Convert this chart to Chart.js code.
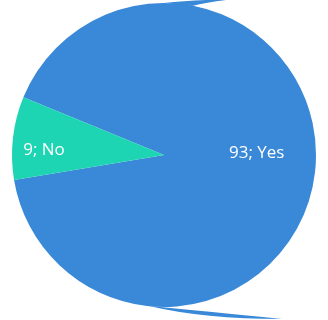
<!DOCTYPE html>
<html>
<head>
<meta charset="utf-8">
<script src="https://cdn.jsdelivr.net/npm/chart.js@4/dist/chart.umd.min.js"></script>
<style>
  html, body { margin: 0; padding: 0; background: #fff; }
  #wrap { width: 328px; height: 320px; position: relative; }
</style>
</head>
<body>
<div id="wrap"><canvas id="pie"></canvas></div>
<script>
// answers and counts
const labels = ['Yes', 'No'];
const counts = [93, 9];
const colors = ['#3a89d8', '#1dd5b2'];

// thin blue streaks trailing off the top and bottom of the pie
const streaks = {
    id: 'streaks',
    beforeDatasetsDraw(chart) {
        const arc = chart.getDatasetMeta(0).data[0];
        const { x, y, outerRadius: R } = arc.getProps(['x', 'y', 'outerRadius']);
        const ctx = chart.ctx;
        ctx.save();
        ctx.fillStyle = colors[0];
        const top = y - R;
        ctx.beginPath();
        ctx.moveTo(x, top);
        ctx.quadraticCurveTo(x + 30, top - 3, x + 70, top - 4);
        ctx.quadraticCurveTo(x + 45, top - 1, x + 28, top + 3);
        ctx.closePath();
        ctx.fill();
        const bot = y + R;
        ctx.beginPath();
        ctx.moveTo(x - 15, bot - 1);
        ctx.quadraticCurveTo(x + 40, bot + 4, x + 118, bot + 12);
        ctx.quadraticCurveTo(x + 40, bot + 12, x - 15, bot - 1);
        ctx.closePath();
        ctx.fill();
        ctx.restore();
    }
};

// "count; label" text inside each slice
const sliceLabels = {
    id: 'sliceLabels',
    afterDatasetsDraw(chart) {
        const ctx = chart.ctx;
        const meta = chart.getDatasetMeta(0);
        const ratios = [0.61, 0.79];
        const turn = [-0.13, -0.07];
        ctx.save();
        ctx.fillStyle = '#ffffff';
        ctx.font = '17px "Open Sans", sans-serif';
        ctx.textAlign = 'center';
        ctx.textBaseline = 'middle';
        meta.data.forEach((arc, i) => {
            const p = arc.getProps(['x', 'y', 'startAngle', 'endAngle', 'outerRadius']);
            const mid = (p.startAngle + p.endAngle) / 2 + turn[i];
            const r = p.outerRadius * ratios[i];
            ctx.fillText(counts[i] + '; ' + labels[i], p.x + Math.cos(mid) * r, p.y + Math.sin(mid) * r);
        });
        ctx.restore();
    }
};

new Chart(document.getElementById('pie'), {
    type: 'pie',
    data: {
        labels: labels,
        datasets: [{
            data: counts,
            backgroundColor: colors,
            borderWidth: 0
        }]
    },
    options: {
        responsive: true,
        maintainAspectRatio: false,
        animation: false,
        rotation: -67.7,
        layout: { padding: { top: 3, bottom: 13, left: 0, right: 0 } },
        plugins: {
            legend: { display: false },
            tooltip: { enabled: false }
        }
    },
    plugins: [streaks, sliceLabels]
});
</script>
</body>
</html>
